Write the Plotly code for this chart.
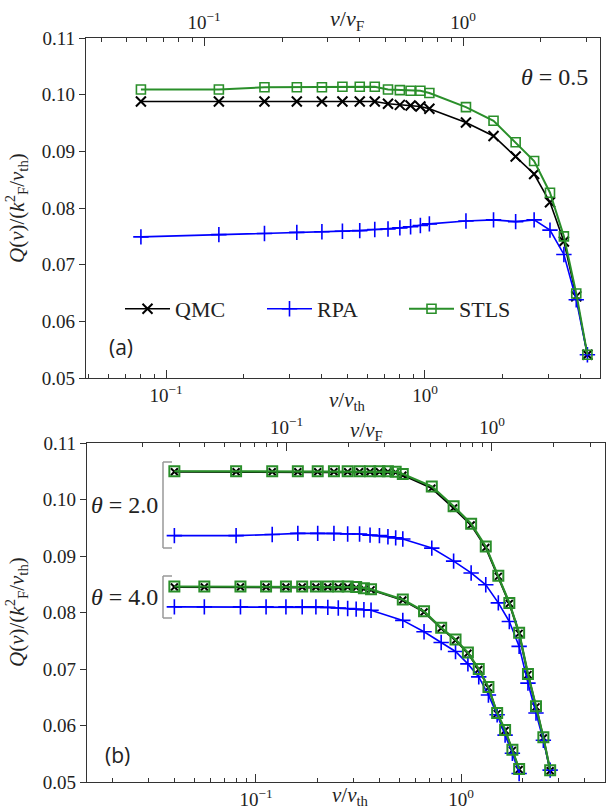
import plotly.graph_objects as go

# ---------------- data ----------------
# panel (a), theta = 0.5
top_v = [0.08, 0.16, 0.24, 0.32, 0.40, 0.48, 0.56, 0.64, 0.72, 0.80, 0.88, 0.96, 1.04,
         1.44, 1.84, 2.24, 2.64, 3.04, 3.44, 3.84, 4.24]
top_qmc = [0.0988, 0.0988, 0.0988, 0.0988, 0.0988, 0.0988, 0.0988, 0.0988, 0.0984, 0.0982,
           0.0981, 0.0979, 0.0975, 0.0951, 0.0927, 0.0891, 0.0860, 0.0810, 0.0741, 0.0644, 0.0541]
top_rpa = [0.0749, 0.0753, 0.0755, 0.0757, 0.0758, 0.0759, 0.0760, 0.0762, 0.0763, 0.0765,
           0.0767, 0.0769, 0.0772, 0.0777, 0.0779, 0.0776, 0.0779, 0.0761, 0.0718, 0.0638, 0.0541]
top_stls = [0.1009, 0.1009, 0.1013, 0.1013, 0.1013, 0.1014, 0.1014, 0.1014, 0.1009, 0.1008,
            0.1007, 0.1007, 0.1003, 0.0978, 0.0954, 0.0916, 0.0883, 0.0827, 0.0750, 0.0649, 0.0541]

# panel (b), theta = 2.0
b2_v = [0.04, 0.08, 0.12, 0.16, 0.20, 0.24, 0.28, 0.32, 0.36, 0.40, 0.44, 0.48, 0.52,
        0.72, 0.92, 1.12, 1.32, 1.52, 1.72, 1.92, 2.12, 2.32, 2.52, 2.72]
b2_qmc = [0.1049, 0.1049, 0.1049, 0.1049, 0.1049, 0.1049, 0.1049, 0.1049, 0.1049, 0.1049,
          0.1049, 0.1048, 0.1043, 0.1020, 0.0985, 0.0955, 0.0915, 0.0864, 0.0816, 0.0763,
          0.0690, 0.0633, 0.0578, 0.0520]
b2_rpa = [0.0936, 0.0936, 0.0938, 0.0940, 0.0940, 0.0940, 0.0939, 0.0939, 0.0937, 0.0936,
          0.0934, 0.0932, 0.0930, 0.0914, 0.0891, 0.0870, 0.0849, 0.0817, 0.0784, 0.0740,
          0.0675, 0.0622, 0.0574, 0.0521]
b2_stls = [0.1050, 0.1050, 0.1050, 0.1050, 0.1050, 0.1050, 0.1050, 0.1050, 0.1050, 0.1050,
           0.1050, 0.1049, 0.1045, 0.1023, 0.0988, 0.0957, 0.0917, 0.0865, 0.0817, 0.0764,
           0.0691, 0.0634, 0.0579, 0.0521]

# panel (b), theta = 4.0
b4_v = [0.04, 0.056, 0.084, 0.112, 0.14, 0.168, 0.196, 0.224, 0.252, 0.28, 0.308, 0.336, 0.364,
        0.52, 0.66, 0.80, 0.94, 1.08, 1.22, 1.36, 1.50, 1.64, 1.78, 1.92]
b4_qmc = [0.0845, 0.0845, 0.0845, 0.0845, 0.0845, 0.0845, 0.0845, 0.0845, 0.0845, 0.0845,
          0.0844, 0.0842, 0.0840, 0.0822, 0.0801, 0.0772, 0.0751, 0.0728, 0.0699, 0.0667,
          0.0621, 0.0591, 0.0556, 0.0522]
b4_rpa = [0.0810, 0.0810, 0.0810, 0.0810, 0.0810, 0.0810, 0.0810, 0.0809, 0.0808, 0.0807,
          0.0806, 0.0805, 0.0804, 0.0786, 0.0766, 0.0747, 0.0731, 0.0709, 0.0686, 0.0654,
          0.0619, 0.0583, 0.0551, 0.0515]
b4_stls = [0.0846, 0.0846, 0.0846, 0.0846, 0.0846, 0.0846, 0.0846, 0.0846, 0.0846, 0.0846,
           0.0845, 0.0843, 0.0841, 0.0823, 0.0802, 0.0773, 0.0752, 0.0729, 0.0700, 0.0668,
           0.0622, 0.0592, 0.0557, 0.0523]

y_ticks = [0.05, 0.06, 0.07, 0.08, 0.09, 0.10, 0.11]
y_ticktext = ["0.05", "0.06", "0.07", "0.08", "0.09", "0.10", "0.11"]
x_major = [0.1, 1.0]
x_major_text = ["10<sup>−1</sup>", "10<sup>0</sup>"]
x_minor = [0.02, 0.03, 0.04, 0.05, 0.06, 0.07, 0.08, 0.09,
           0.2, 0.3, 0.4, 0.5, 0.6, 0.7, 0.8, 0.9, 2, 3, 4, 5, 6, 7, 8, 9]

# ---------------- style ----------------
W, H = 606, 810
def px(x):
    return x / W
def py(y):
    return 1 - y / H

BLACK = "#000000"
BLUE = "#0000ff"
GREEN = "#2a8f2a"
AX = "#333333"
SERIF = "Liberation Serif"

fig = go.Figure()

# panel (a)
fig.add_trace(go.Scatter(x=top_v, y=top_qmc, mode="lines+markers", name="QMC",
                         line=dict(color=BLACK, width=1.6),
                         marker=dict(symbol="x-thin", size=10, line=dict(width=2, color=BLACK)),
                         xaxis="x", yaxis="y"))
fig.add_trace(go.Scatter(x=top_v, y=top_rpa, mode="lines+markers", name="RPA",
                         line=dict(color=BLUE, width=1.6),
                         marker=dict(symbol="cross-thin", size=11, line=dict(width=1.6, color=BLUE)),
                         xaxis="x", yaxis="y"))
fig.add_trace(go.Scatter(x=top_v, y=top_stls, mode="lines+markers", name="STLS",
                         line=dict(color=GREEN, width=2),
                         marker=dict(symbol="square-open", size=9, line=dict(width=1.6), color=GREEN),
                         xaxis="x", yaxis="y"))

# panel (b)
for v, q, r, s in [(b2_v, b2_qmc, b2_rpa, b2_stls), (b4_v, b4_qmc, b4_rpa, b4_stls)]:
    fig.add_trace(go.Scatter(x=v, y=q, mode="lines+markers", showlegend=False,
                             line=dict(color=BLACK, width=2),
                             marker=dict(symbol="x-thin", size=7, line=dict(width=2, color=BLACK)),
                             xaxis="x3", yaxis="y2"))
    fig.add_trace(go.Scatter(x=v, y=r, mode="lines+markers", showlegend=False,
                             line=dict(color=BLUE, width=1.6),
                             marker=dict(symbol="cross-thin", size=11, line=dict(width=1.6, color=BLUE)),
                             xaxis="x3", yaxis="y2"))
    fig.add_trace(go.Scatter(x=v, y=s, mode="lines+markers", showlegend=False,
                             line=dict(color=GREEN, width=2.2),
                             marker=dict(symbol="square-open", size=10, line=dict(width=2), color=GREEN),
                             xaxis="x3", yaxis="y2"))

# invisible traces so the twin (top) axes are drawn
fig.add_trace(go.Scatter(x=[1.0], y=[0.2], mode="markers", marker=dict(opacity=0),
                         showlegend=False, hoverinfo="skip", xaxis="x2", yaxis="y"))
fig.add_trace(go.Scatter(x=[1.0], y=[0.2], mode="markers", marker=dict(opacity=0),
                         showlegend=False, hoverinfo="skip", xaxis="x4", yaxis="y2"))

tickfont = dict(family=SERIF, size=19, color="#222222")

def xax(rng, domain, anchor, side="bottom", overlaying=None):
    d = dict(type="log", range=rng, side=side, anchor=anchor,
             showline=True, linecolor=AX, linewidth=1.2, showgrid=False, zeroline=False,
             ticks="inside", ticklen=8, tickwidth=1.1, tickcolor=AX,
             tickmode="array", tickvals=x_major, ticktext=x_major_text,
             tickfont=tickfont, automargin=False,
             minor=dict(ticks="inside", ticklen=4, tickwidth=1, tickcolor=AX,
                        tickmode="array", tickvals=x_minor, showgrid=False))
    if overlaying:
        d["overlaying"] = overlaying
    else:
        d["domain"] = domain
    return d

def yax(domain, anchor):
    return dict(range=[0.05, 0.11], domain=domain, anchor=anchor,
                showline=True, linecolor=AX, linewidth=1.2, mirror=True,
                showgrid=False, zeroline=False,
                ticks="outside", ticklen=6, tickwidth=1.1, tickcolor=AX,
                tickmode="array", tickvals=y_ticks, ticktext=y_ticktext,
                tickfont=tickfont, automargin=False)

top_dom_x = [px(86), px(600)]
bot_dom_x = [px(87), px(605)]
top_dom_y = [py(378), py(38)]
bot_dom_y = [py(782), py(443)]

fig.update_layout(
    width=W, height=H,
    margin=dict(l=0, r=0, t=0, b=0),
    paper_bgcolor="white", plot_bgcolor="white",
    font=dict(family=SERIF, color="#222222"),
    xaxis=xax([-1.309, 0.676], top_dom_x, "y"),
    xaxis2=xax([-1.456, 0.529], top_dom_x, "y", side="top", overlaying="x"),
    yaxis=yax(top_dom_y, "x"),
    xaxis3=xax([-1.824, 0.702], bot_dom_x, "y2"),
    xaxis4=xax([-1.971, 0.550], bot_dom_x, "y2", side="top", overlaying="x3"),
    yaxis2=yax(bot_dom_y, "x3"),
    showlegend=True,
    legend=dict(orientation="h", x=px(120), y=py(309), xanchor="left", yanchor="middle",
                font=dict(family=SERIF, size=22, color="#222222"),
                bgcolor="rgba(0,0,0,0)", itemwidth=45,
                entrywidth=82, entrywidthmode="pixels", traceorder="normal"),
)

ann = []
def text(x, y, s, size=18, family=SERIF, angle=0, xanchor="center"):
    ann.append(dict(x=px(x), y=py(y), xref="paper", yref="paper", text=s, showarrow=False,
                    font=dict(family=family, size=size, color="#222222"),
                    xanchor=xanchor, yanchor="middle", textangle=angle))

vth = "<i>v</i>/<i>v</i><sub>th</sub>"
vF = "<i>v</i>/<i>v</i><sub>F</sub>"
ylab = "<i>Q</i>(<i>v</i>)/(<i>k</i><sup>2</sup><sub>F</sub>/<i>v</i><sub>th</sub>)"
text(347, 20, vF, 22)
text(347, 401, vth, 21)
text(367, 431, vF, 21)
text(350, 796, vth, 21)
text(16, 208, ylab, 21, angle=-90)
text(16, 612, ylab, 21, angle=-90)
text(554, 77, "<i>θ</i> = 0.5", 24)
text(124, 505, "<i>θ</i> = 2.0", 24)
text(124, 597, "<i>θ</i> = 4.0", 24)
text(107, 347, "(a)", 21, family="Open Sans", xanchor="left")
text(103, 755, "(b)", 21, family="Open Sans", xanchor="left")
fig.update_layout(annotations=ann)

shapes = []
def seg(x0, y0, x1, y1):
    shapes.append(dict(type="line", xref="paper", yref="paper",
                       x0=px(x0), y0=py(y0), x1=px(x1), y1=py(y1),
                       line=dict(color="#999999", width=1.5)))
for y0, y1 in [(462, 548), (576, 618)]:
    seg(163, y0, 163, y1)
    seg(163, y0, 172, y0)
    seg(163, y1, 172, y1)
fig.update_layout(shapes=shapes)

fig.write_html("out.html", config={"displayModeBar": False},
               post_script="document.body.style.margin='0px';document.body.style.overflow='hidden';")
